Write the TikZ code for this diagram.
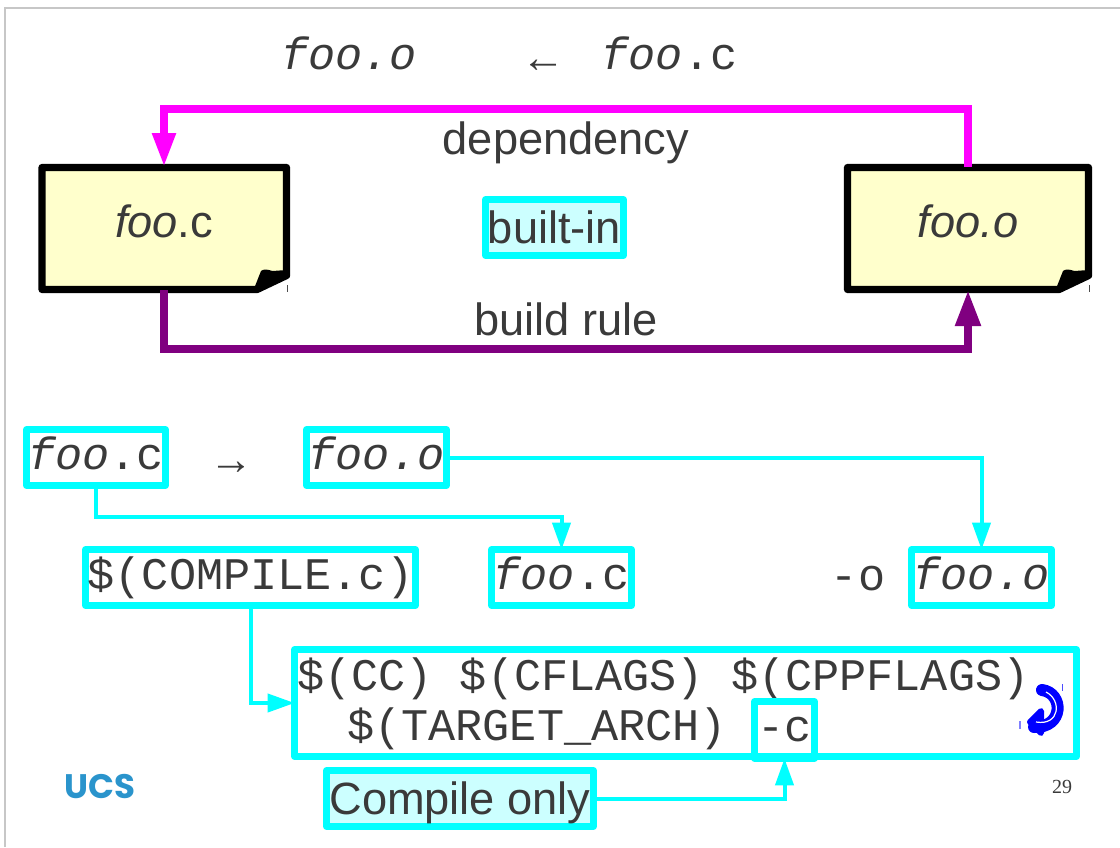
\documentclass[tikz,border=0pt]{standalone}
\usepackage{fontspec}
\setmainfont{Liberation Sans}
\setmonofont{Liberation Mono}
\newfontfamily\arrowfont{Liberation Serif}
\newfontfamily\logofont{Poppins}
\usetikzlibrary{positioning}
\usetikzlibrary{arrows.meta}
\definecolor{inkgrey}{HTML}{3A3A3A}
\definecolor{notecream}{HTML}{FFFFCC}
\definecolor{palecyan}{HTML}{CCFFFF}
\definecolor{ruleviolet}{HTML}{800080}
\definecolor{logoblue}{HTML}{2A94CC}
\definecolor{linkcyan}{HTML}{00FFFF}
\definecolor{depmagenta}{HTML}{FF00FF}
\tikzstyle{sanstext} = [text=inkgrey,font=\fontsize{45.2}{50}\selectfont,inner sep=0pt]
\tikzstyle{monotext} = [text=inkgrey,font=\fontsize{45.2}{50}\selectfont\ttfamily,inner sep=0pt]
\tikzstyle{arrowtext} = [text=inkgrey,font=\fontsize{44}{48}\selectfont\arrowfont,inner sep=0pt]
\tikzstyle{note} = [text=inkgrey,font=\fontsize{45.2}{50}\selectfont,inner sep=0pt,outer sep=0pt,text height=17pt,text depth=0pt]
\tikzstyle{cyanbox} = [draw=linkcyan,line width=7.3pt,line join=round,inner sep=0pt,outer sep=0pt,text=inkgrey,font=\fontsize{45.2}{50}\selectfont\ttfamily,text height=32pt,text depth=9pt]
\tikzstyle{palebox} = [cyanbox,fill=palecyan,font=\fontsize{45.2}{50}\selectfont,text height=38pt,text depth=7pt]
\tikzstyle{cyanarrow} = [draw=linkcyan,line width=4pt,-{Triangle[length=27pt,width=18pt]}]
\tikzstyle{deparrow} = [draw=depmagenta,line width=8pt,-{Triangle[length=34pt,width=22pt]}]
\tikzstyle{rulearrow} = [draw=ruleviolet,line width=8pt,-{Triangle[length=36pt,width=24pt]}]
\newcommand{\foldednote}[2]{
	\begin{scope}[shift={(#1,0)}]
		\draw[line width=7.3pt,line join=round,fill=notecream] (-#2,167.5) -- (0,167.5) -- (0,275.5) -- (-29.5,289.5) -- (-#2,289.5) -- cycle;
		\fill[line join=round] (0,276) -- (0,270) -- (-14,271) .. controls (-20,269) and (-23,269) .. (-25.5,271) -- (-33,290) -- (-29,290) -- cycle;
		\draw[line width=1pt,black!70] (0.5,285) -- (0.5,292);
	\end{scope}
}

\begin{document}
\begin{tikzpicture}[x=1pt,y=-1pt]
	\useasboundingbox (0,0) rectangle (1120,847);
	\draw[line width=1.5pt,black!22] (5,847) -- (5,8) -- (1120,8);
	
	%Heading
	\node [monotext,anchor=base] (headO) at (349,69) {\textit{foo.o}};
	\node [arrowtext,anchor=base] (headArrow) at (543,72.5) {←};
	\node [monotext,anchor=base] (headC) at (669.5,69) {\textit{foo}.c};
	
	%Notes
	\foldednote{286.5}{244.5}
	\foldednote{1088.5}{241}
	\node [note,minimum width=245pt,minimum height=123pt] (noteC) at (164,228.5) {\textit{foo}.c};
	\node [note,minimum width=241pt,minimum height=123pt] (noteO) at (968,228.5) {\textit{foo.o}};
	\coordinate (depTop) at (566,109);
	\coordinate (ruleLow) at (566,349);
	\node [sanstext,anchor=base] (dependency) at (566,154) {dependency};
	\node [sanstext,anchor=base] (buildRule) at (566,335) {build rule};
	\node [palebox,minimum width=137.7pt,minimum height=55.7pt] (builtIn) at (554.5,227.5) {built-in};
	
	%Recipe
	\node [cyanbox,minimum width=138.7pt,minimum height=55.7pt] (srcC) at (96,457.5) {\textit{foo}.c};
	\node [arrowtext,anchor=base] (srcArrow) at (231,474.5) {→};
	\node [cyanbox,minimum width=139.7pt,minimum height=55.7pt] (srcO) at (376.5,457.5) {\textit{foo.o}};
	\node [cyanbox,minimum width=329.7pt,minimum height=55.7pt] (compile) at (250.5,577.5) {\$(COMPILE.c)};
	\node [cyanbox,minimum width=139.7pt,minimum height=55.7pt] (argC) at (561.5,577.5) {\textit{foo}.c};
	\node [monotext,anchor=base] (minusO) at (858,590) {-o};
	\node [cyanbox,minimum width=139.7pt,minimum height=55.7pt] (argO) at (981.5,577.5) {\textit{foo.o}};
	\coordinate (elbow) at (330,517);
	
	%Expansion
	\node [draw=linkcyan,line width=7.3pt,line join=round,outer sep=0pt,minimum width=781.7pt,minimum height=106.7pt] (expansion) at (685.5,703) {};
	\node [monotext,anchor=base west] (lineOne) at (297,690) {\$(CC) \$(CFLAGS) \$(CPPFLAGS)};
	\node [monotext,anchor=base west] (lineTwo) at (347,740) {\$(TARGET\_ARCH)};
	\node [cyanbox,minimum width=59.7pt,minimum height=56.7pt] (flagC) at (784.5,730) {-c};
	\node [palebox,minimum width=266.7pt,minimum height=55.7pt] (compileOnly) at (460,798.5) {Compile only};
	
	%Wrap mark
	\draw[blue,line width=12pt,line cap=round] (1042,690) .. controls (1064,693) and (1064,728) .. (1034,727);
	\fill[blue,draw=blue,line width=6pt,line join=round] (1030,722) -- (1041,711) -- (1041,733) -- cycle;
	\draw[white,line width=1.2pt] (1046,692) .. controls (1062,700) and (1060,726) .. (1036,722);
	\draw[blue!70,line width=1pt] (1062,684) -- (1062,691);
	\draw[blue!50,line width=2pt] (1020,721) -- (1020,729);
	
	%Footer
	\node [font=\fontsize{34}{40}\selectfont\logofont\bfseries,text=logoblue,anchor=base,inner sep=0pt] (logo) at (100,798) {UCS};
	\node [font=\fontsize{20}{24}\selectfont\arrowfont,text=inkgrey,anchor=base,inner sep=0pt] (pageNum) at (1062,793) {29};
	
	%Lines
	\draw[deparrow] (noteO.north) |- (depTop) -| (noteC.north);
	\draw[rulearrow] (noteC.south) |- (ruleLow) -| (noteO.south);
	\draw[cyanarrow] (srcC.south) |- (elbow) -| (argC.north);
	\draw[cyanarrow] (srcO.east) -| (argO.north);
	\draw[cyanarrow] (compile.south) |- (expansion.west);
	\draw[cyanarrow] (compileOnly.east) -| (flagC.south);
\end{tikzpicture}
\end{document}
